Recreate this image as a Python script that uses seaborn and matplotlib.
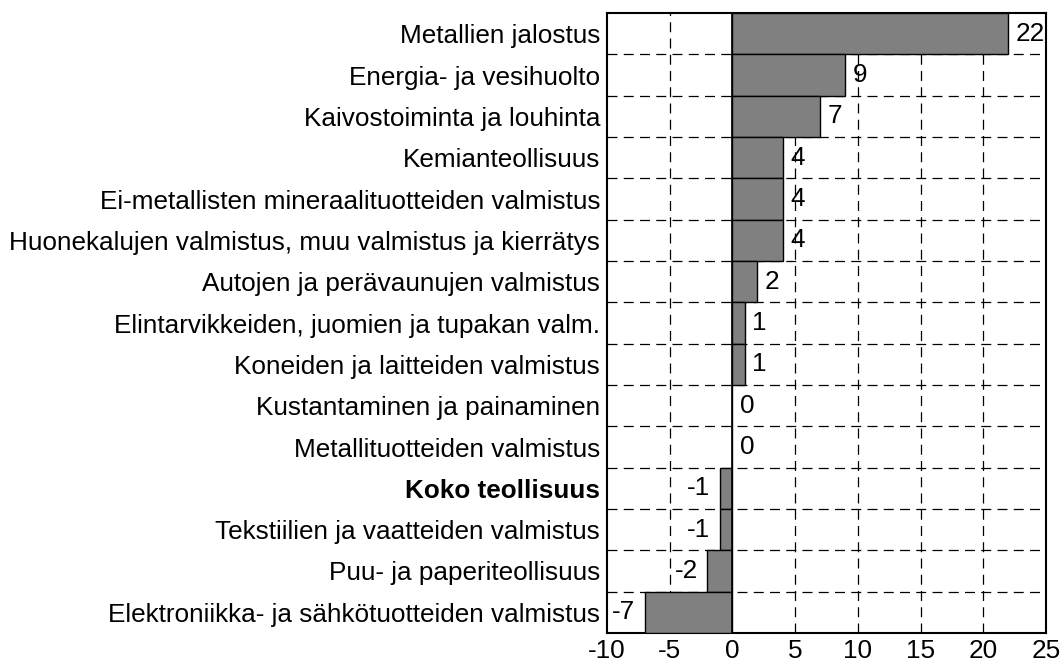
import numpy as np
import pandas as pd
import matplotlib
matplotlib.use("Agg")
import matplotlib.pyplot as plt
import seaborn as sns

categories = [
    "Metallien jalostus",
    "Energia- ja vesihuolto",
    "Kaivostoiminta ja louhinta",
    "Kemianteollisuus",
    "Ei-metallisten mineraalituotteiden valmistus",
    "Huonekalujen valmistus, muu valmistus ja kierrätys",
    "Autojen ja perävaunujen valmistus",
    "Elintarvikkeiden, juomien ja tupakan valm.",
    "Koneiden ja laitteiden valmistus",
    "Kustantaminen ja painaminen",
    "Metallituotteiden valmistus",
    "Koko teollisuus",
    "Tekstiilien ja vaatteiden valmistus",
    "Puu- ja paperiteollisuus",
    "Elektroniikka- ja sähkötuotteiden valmistus",
]
values = [22, 9, 7, 4, 4, 4, 2, 1, 1, 0, 0, -1, -1, -2, -7]
x_ticks = [-10, -5, 0, 5, 10, 15, 20, 25]

df = pd.DataFrame({"cat": categories, "val": values})

sns.set_style("white")
plt.rcParams["font.family"] = ["Liberation Sans", "DejaVu Sans"]
plt.rcParams["text.color"] = "black"
plt.rcParams["xtick.color"] = "black"
plt.rcParams["ytick.color"] = "black"

fs = 18.8

fig = plt.figure(figsize=(10.6, 6.68), dpi=100)
ax = fig.add_axes([0.5726, 0.0524, 0.4142, 0.9281])

sns.barplot(data=df, x="val", y="cat", orient="h", width=1, color="#808080",
            saturation=1, edgecolor="black", linewidth=1, ax=ax, zorder=3)

# dashed grid: vertical at ticks, horizontal between categories
for xv in x_ticks[1:-1]:
    if xv != 0:
        ax.axvline(xv, color="black", lw=0.9, ls=(0, (8, 5)), zorder=1)
for i in range(len(categories) - 1):
    ax.axhline(i + 0.5, color="black", lw=0.9, ls=(0, (8, 5)), zorder=1)
ax.axvline(0, color="black", lw=1.2, zorder=4)

ax.set_xlim(-10, 25)
ax.set_ylim(len(categories) - 0.5, -0.5)
ax.set_xticks(x_ticks)
ax.set_xticklabels([str(t) for t in x_ticks])
ax.tick_params(axis="both", length=0, labelsize=fs, labelcolor="black")
ax.tick_params(axis="y", pad=5)
ax.tick_params(axis="x", pad=4)
ax.set_xlabel("")
ax.set_ylabel("")
for lab in ax.get_yticklabels():
    if lab.get_text() == "Koko teollisuus":
        lab.set_fontweight("bold")

for i, v in enumerate(values):
    if v >= 0:
        ax.text(v + 0.6, i, str(v), va="center", ha="left", fontsize=fs, zorder=5)
    else:
        ax.text(v - 0.75, i, str(v), va="center", ha="right", fontsize=fs, zorder=5)

for s in ax.spines.values():
    s.set_visible(True)
    s.set_color("black")
    s.set_linewidth(1.5)

fig.savefig("out.png", dpi=100)
